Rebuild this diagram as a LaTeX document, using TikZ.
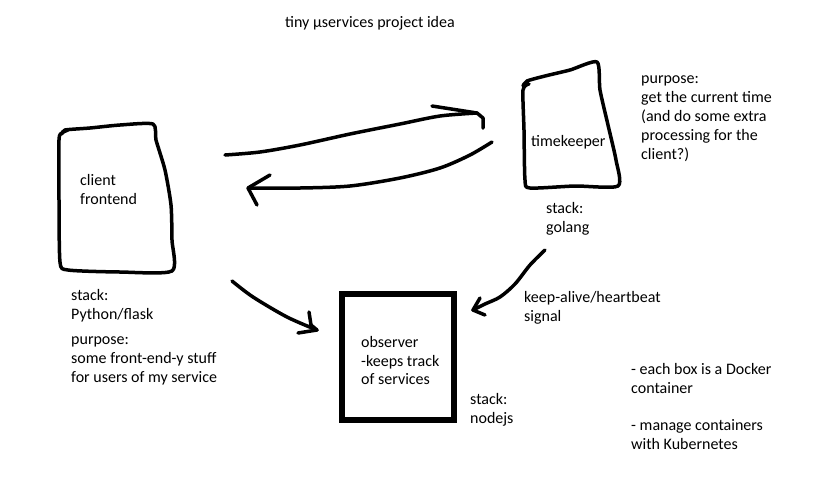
\documentclass[tikz,border=0pt]{standalone}
\usepackage{fontspec}
\setmainfont{Carlito}
\begin{document}
\begin{tikzpicture}[x=1pt,y=-1pt,
  pen/.style={line width=3.5pt,line cap=round,line join=round},
  lbl/.style={anchor=north west,inner sep=0pt,align=left,font=\fontsize{16}{18.8}\selectfont}]
\useasboundingbox (0,0) rectangle (817,499);
% title
\node[lbl] (title) at (285,16) {tiny µservices project idea};
% client box
\draw[pen] plot[smooth,tension=0.4] coordinates {(62,134)(65,130)(90,128)(120,125)(153,124)(156,140)(165,170)(171,205)(172,240)(172,271)(120,272)(68,270)(60,262)(59,200)(59,140)(62,133)(68,130)};
\node[lbl] (client) at (80,174) {client\\frontend};
% timekeeper box
\draw[pen] plot[smooth,tension=0.4] coordinates {(523,86)(527,81)(545,76)(570,70)(597,62)(600,90)(608,125)(616,160)(618,186)(575,186)(530,188)(525,180)(524,130)(523,90)(529,84)};
\node[lbl] (tk) at (531,135) {timekeeper};
\node[lbl] (tkpurpose) at (641,76) {purpose:\\get the current time\\(and do some extra\\processing for the\\client?)};
\node[lbl] (tkstack) at (546,202) {stack:\\golang};
% observer box
\draw[line width=6pt] (342,293.5) rectangle (454,420);
\node[lbl] (obs) at (361,336) {observer\\-keeps track\\of services};
\node[lbl] (obsstack) at (470,393) {stack:\\nodejs};
% client texts
\node[lbl] (clstack) at (71,289) {stack:\\Python/flask};
\node[lbl] (clpurpose) at (71,337) {purpose:\\some front-end-y stuff\\for users of my service};
\node[lbl] (hb) at (524,291) {keep-alive/heartbeat\\signal};
\node[lbl] (docker) at (631,363) {- each box is a Docker\\container};
\node[lbl] (kube) at (631,419) {- manage containers\\with Kubernetes};
% arrows
\coordinate (a1s) at (225,155);
\coordinate (a1e) at (477,113);
\draw[pen] plot[smooth,tension=0.5] coordinates {(a1s)(260,152)(300,145)(350,134)(400,124)(440,116)(a1e)};
\draw[pen] (432,106) -- (a1e) -- (483,118) -- (483,128);
\coordinate (a2s) at (492,142);
\coordinate (a2e) at (248,188);
\draw[pen] plot[smooth,tension=0.5] coordinates {(a2s)(470,155)(440,168)(400,178)(350,186)(300,188)(a2e)};
\draw[pen] (270,175) -- (a2e) -- (257,205);
\coordinate (a3s) at (232,281);
\coordinate (a3e) at (317,330);
\draw[pen] plot[smooth,tension=0.5] coordinates {(a3s)(253,297)(287,317)(a3e)};
\draw[pen] (309,312) -- (311,325) -- (a3e) -- (298,333);
\coordinate (a4s) at (545,250);
\coordinate (a4e) at (473,310);
\draw[pen] plot[smooth,tension=0.5] coordinates {(a4s)(530,265)(515,284)(500,297)(485,304)(a4e)};
\draw[pen] (480,298) -- (a4e) -- (485,315);
\end{tikzpicture}
\end{document}
